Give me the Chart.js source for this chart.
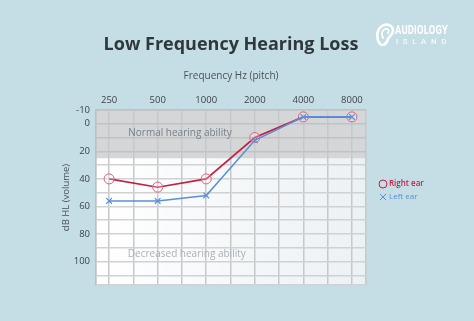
<!DOCTYPE html>
<html><head><meta charset="utf-8">
<script src="https://cdn.jsdelivr.net/npm/chart.js@4.4.1/dist/chart.umd.min.js"></script>
<style>
html,body{margin:0;padding:0;background:#c5dee5;}
#wrap{position:relative;width:474px;height:321px;overflow:hidden;}
canvas{display:block;}
#logo{position:absolute;left:375px;top:23px;width:90px;height:26px;}
#logo .t1{position:absolute;left:20px;top:-1px;font:700 13px 'Roboto',sans-serif;color:#fff;transform:scaleX(0.72);transform-origin:0 0;letter-spacing:0.3px;}
#logo .t2{position:absolute;left:21px;top:14px;font:400 8px 'Roboto',sans-serif;color:#fff;letter-spacing:4.6px;}
</style></head><body>
<div id="wrap">
<canvas id="c" width="474" height="321"></canvas>
<div id="logo">
<svg width="20" height="24" viewBox="0 0 20 24" style="position:absolute;left:0;top:0">
<path d="M5 21 C1 16 1 7 7 3 C12 0 18 2 18 8 C18 12 14 13 13 16 C12 19 11 22 7 22" fill="none" stroke="#fff" stroke-width="2.6" stroke-linecap="round"/>
<path d="M8 15 C6 11 7 7 10 6 C13 5 15 8 13 10" fill="none" stroke="#fff" stroke-width="1.8" stroke-linecap="round"/>
</svg>
<div class="t1">AUDIOLOGY</div>
<div class="t2">ISLAND</div>
</div>
</div>
<script>
const frequencies = ['250', '500', '1000', '2000', '4000', '8000'];
const rightEar = [40, 46, 40, 10, -5, -5];
const leftEar = [56, 56, 52, 12, -5, -5];
const yTickLabels = [-10, 0, 20, 40, 60, 80, 100];
const yGridValues = [-10, 0, 10, 20, 30, 40, 50, 60, 70, 80, 90, 100, 110];
const normalRange = [-10, 25];
const regionLabels = ['Normal hearing ability', 'Decreased hearing ability'];
const seriesNames = ['Right ear', 'Left ear'];

const FONT = "'Open Sans', 'Noto Sans', sans-serif";
const X_MIN = -0.27, X_MAX = 5.29, Y_MIN = -10, Y_MAX = 117;
const RED = '#c41f3e', BLUE = '#5b8fd8';

const bgPlugin = {
  id: 'bg',
  beforeDraw(chart) {
    const {ctx, chartArea: a, scales: {y}} = chart;
    ctx.save();
    ctx.fillStyle = '#c5dee5';
    ctx.fillRect(0, 0, chart.width, chart.height);
    const g = ctx.createLinearGradient(a.left, 0, a.right, 0);
    g.addColorStop(0, '#ffffff');
    g.addColorStop(1, '#ecf1f4');
    ctx.fillStyle = g;
    ctx.fillRect(a.left, a.top, a.width, a.height);
    const y0 = y.getPixelForValue(normalRange[0]);
    const y1 = y.getPixelForValue(normalRange[1]);
    ctx.fillStyle = '#d5d6d7';
    ctx.fillRect(a.left, y0, a.width, y1 - y0);
    ctx.restore();
  },
  beforeDatasetsDraw(chart) {
    const {ctx, scales: {x, y}} = chart;
    ctx.save();
    ctx.font = "400 10px " + FONT;
    ctx.textAlign = 'center';
    ctx.textBaseline = 'middle';
    ctx.fillStyle = '#76808a';
    ctx.fillText(regionLabels[0], x.getPixelForValue(1.46), y.getPixelForValue(6.6));
    ctx.fillStyle = '#a9b1b7';
    ctx.fillText(regionLabels[1], x.getPixelForValue(1.6), y.getPixelForValue(94.5));
    ctx.restore();
  },
  afterDraw(chart) {
    const {ctx, chartArea: a} = chart;
    ctx.save();
    const lx = a.right + 17;
    ctx.strokeStyle = RED; ctx.lineWidth = 1;
    ctx.beginPath(); ctx.arc(lx, 184, 4, 0, Math.PI * 2); ctx.stroke();
    ctx.font = "600 8px " + FONT;
    ctx.textBaseline = 'middle'; ctx.textAlign = 'left';
    ctx.fillStyle = RED;
    ctx.fillText(seriesNames[0], lx + 6, 184);
    ctx.strokeStyle = BLUE;
    const r = 3;
    ctx.beginPath();
    ctx.moveTo(lx - r, 197 - r); ctx.lineTo(lx + r, 197 + r);
    ctx.moveTo(lx + r, 197 - r); ctx.lineTo(lx - r, 197 + r);
    ctx.stroke();
    ctx.font = "400 8px " + FONT;
    ctx.fillStyle = BLUE;
    ctx.fillText(seriesNames[1], lx + 6, 197);
    ctx.restore();
  }
};

new Chart(document.getElementById('c'), {
  type: 'line',
  data: {
    datasets: [
      {
        label: seriesNames[0],
        data: rightEar.map((v, i) => ({x: i, y: v})),
        borderColor: RED,
        borderWidth: 1.6,
        pointStyle: 'circle',
        pointRadius: 5,
        pointBorderWidth: 1,
        pointBorderColor: '#d8677c',
        pointBackgroundColor: 'rgba(255,255,255,0.25)',
        tension: 0,
        order: 2
      },
      {
        label: seriesNames[1],
        data: leftEar.map((v, i) => ({x: i, y: v})),
        borderColor: BLUE,
        borderWidth: 1.6,
        pointStyle: 'crossRot',
        pointRadius: 4,
        pointBorderWidth: 1.2,
        pointBorderColor: BLUE,
        pointBackgroundColor: BLUE,
        tension: 0,
        order: 1
      }
    ]
  },
  options: {
    responsive: false,
    animation: false,
    devicePixelRatio: 1,
    layout: {padding: {left: 50, right: 108, top: 0, bottom: 36}},
    plugins: {
      legend: {display: false},
      tooltip: {enabled: false},
      title: {
        display: true,
        text: 'Low Frequency Hearing Loss',
        fullSize: false,
        color: '#2f383c',
        font: {family: FONT, size: 18, weight: 'bold'},
        padding: {top: 34.2, bottom: 14.2}
      }
    },
    scales: {
      x: {
        type: 'linear',
        position: 'top',
        min: X_MIN,
        max: X_MAX,
        afterFit(s) { s.height = 40; },
        afterBuildTicks(s) {
          const t = [X_MIN];
          for (let v = 0; v <= 5; v += 0.5) t.push(v);
          t.push(X_MAX);
          s.ticks = t.map(v => ({value: v}));
        },
        ticks: {
          autoSkip: false,
          maxRotation: 0,
          padding: 4,
          color: '#3b4448',
          font: {family: FONT, size: 9.5},
          callback: (v) => Number.isInteger(v) && v >= 0 && v < frequencies.length ? frequencies[v] : ''
        },
        grid: {color: '#c6c8ca', lineWidth: 1.5, drawTicks: false},
        border: {display: true, color: '#bdbfc1', width: 1.5},
        title: {
          display: true,
          text: 'Frequency Hz (pitch)',
          color: '#495256',
          font: {family: FONT, size: 10},
          padding: {top: 0, bottom: 0}
        }
      },
      y: {
        type: 'linear',
        reverse: true,
        min: Y_MIN,
        max: Y_MAX,
        afterFit(s) { s.width = 46; },
        afterBuildTicks(s) {
          s.ticks = yGridValues.concat([Y_MAX]).map(v => ({value: v}));
        },
        ticks: {
          autoSkip: false,
          padding: 6,
          color: '#3b4448',
          font: {family: FONT, size: 9.5},
          callback: (v) => yTickLabels.includes(v) ? String(v) : ''
        },
        grid: {
          color: (c) => (c.tick && c.tick.value <= normalRange[1]) ? '#bfc1c3' : '#cfd1d3',
          lineWidth: 1.5,
          drawTicks: false
        },
        border: {display: true, color: '#bdbfc1', width: 1.5},
        title: {
          display: true,
          text: 'dB HL (volume)',
          color: '#495256',
          font: {family: FONT, size: 9.5},
          padding: {top: 11, bottom: 0}
        }
      }
    }
  },
  plugins: [bgPlugin]
});
</script>
</body></html>
